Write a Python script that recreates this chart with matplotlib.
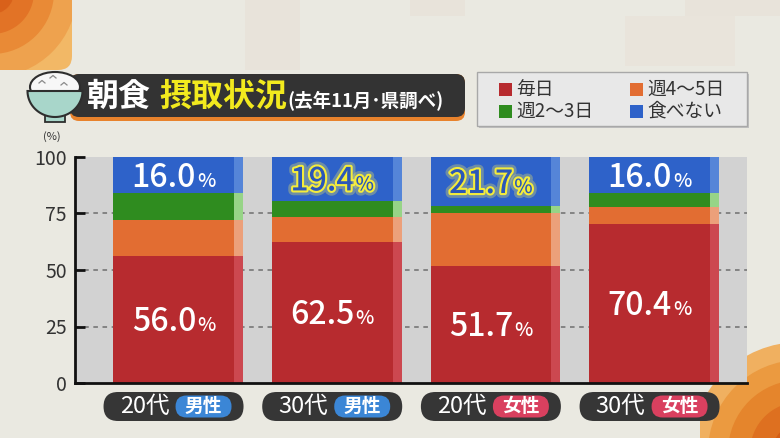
import matplotlib
matplotlib.use("Agg")
import matplotlib.pyplot as plt
import matplotlib.patches as mpatches
import matplotlib.patheffects as pe
from matplotlib import transforms
import numpy as np

plt.rcParams['font.family'] = ['Noto Sans CJK JP', 'DejaVu Sans']

# ---------------- data ----------------
ages = ["20代", "30代", "20代", "30代"]
genders = ["男性", "男性", "女性", "女性"]
series_names = ["毎日", "週4～5日", "週2～3日", "食べない"]
everyday = [56.0, 62.5, 51.7, 70.4]
w4_5 = [16.0, 11.0, 23.5, 7.5]
w2_3 = [12.0, 7.1, 3.1, 6.1]
never = [16.0, 19.4, 21.7, 16.0]
highlight = [False, True, True, False]
yticks = [0, 25, 50, 75, 100]
gridvals = [25, 50, 75]
title_main = "朝食"
title_sub = "摂取状況"
title_note = "(去年11月･県調べ)"

colors = ["#b72b2f", "#e26d32", "#2f8c1f", "#2e62c9"]
side_colors = ["#cc4850", "#eca07a", "#97d487", "#5585d8"]
gender_colors = {"男性": "#3b86d6", "女性": "#d9405f"}

W, H = 780, 438
fig = plt.figure(figsize=(W / 100, H / 100), dpi=100)
fig.patch.set_facecolor("#eae9e1")

# background overlay axes in pixel coordinates
bg = fig.add_axes([0, 0, 1, 1], zorder=0)
bg.set_xlim(0, W)
bg.set_ylim(H, 0)
bg.axis("off")

# subtle tiles
tiles = [(245, 0, 55, 70, "#e8e3da"), (410, 0, 55, 16, "#e8e3da"),
         (625, 16, 110, 50, "#e9e4db"), (685, 0, 95, 16, "#e8e3da")]
for x0, y0, w, h, c in tiles:
    bg.add_patch(mpatches.Rectangle((x0, y0), w, h, color=c, lw=0, zorder=0))

# top-left orange corner
clip_tl = mpatches.FancyBboxPatch((-30, -30), 102, 100, boxstyle="round,pad=0,rounding_size=14",
                                  transform=bg.transData, visible=False)
bg.add_patch(clip_tl)
for r, c in [(110, "#f2b866"), (85, "#eea24e"), (62, "#e98a36"), (42, "#e27326"), (22, "#d9611a")]:
    circ = mpatches.Circle((-8, -8), r, color=c, lw=0, zorder=0.5)
    bg.add_patch(circ)
    circ.set_clip_path(clip_tl)

# bottom-right orange corner
clip_br = mpatches.Rectangle((700, 330), 90, 120, transform=bg.transData, visible=False)
bg.add_patch(clip_br)
for r, c in [(110, "#f0b060"), (92, "#eb9a40"), (72, "#e5852c"), (50, "#de7020"), (28, "#d45e16")]:
    circ = mpatches.Circle((800, 452), r, color=c, lw=0, zorder=0.5)
    bg.add_patch(circ)
    circ.set_clip_path(clip_br)

# ---------------- main axes ----------------
ax = fig.add_axes([75 / W, 55 / H, 672 / W, 226 / H], zorder=1)
ax.set_facecolor("#d2d2d2")
ax.set_ylim(0, 100)
ax.set_xlim(-0.621, 3.614)
x = np.arange(len(ages))
main_w = 0.76
side_w = 0.057

ax.hlines(gridvals, -0.621, 3.614, colors="#6e6e6e", linestyles=(0, (3, 3)), lw=1.1, zorder=1)

stack = [everyday, w4_5, w2_3, never]
bottom = np.zeros(len(ages))
for vals, c, sc in zip(stack, colors, side_colors):
    vals = np.array(vals)
    ax.bar(x, vals, width=main_w, bottom=bottom, color=c, lw=0, zorder=2)
    ax.bar(x + main_w / 2, vals, width=side_w, bottom=bottom, align="edge", color=sc, lw=0, zorder=2)
    bottom = bottom + vals

for s in ["top", "right"]:
    ax.spines[s].set_visible(False)
for s in ["left", "bottom"]:
    ax.spines[s].set_linewidth(2)
    ax.spines[s].set_color("#111111")
    ax.spines[s].set_zorder(3)
ax.set_xticks([])
ax.set_yticks(yticks)
ax.tick_params(axis="y", direction="in", length=7.5, width=2, color="#111111",
               labelsize=14, labelcolor="#333333", pad=6)

renderer = fig.canvas.get_renderer()


def text_width(s, fs):
    t = fig.text(0, 0, s, fontsize=fs, fontweight="medium")
    w = t.get_window_extent(renderer).width
    t.remove()
    return w


def value_label(xc, yc, num, color, glow=False):
    fs1, fs2 = 23, 14
    w1 = text_width(num, fs1)
    w2 = text_width("%", fs2)
    gap = 1
    total = w1 + gap + w2
    base_dy = -0.36 * fs1 * 100 / 72
    effects = []
    if glow:
        effects = [pe.withStroke(linewidth=7, foreground=(1.0, 0.95, 0.35, 0.3)),
                   pe.withStroke(linewidth=3, foreground="#f4ec3c")]
    tr1 = transforms.offset_copy(ax.transData, fig=fig, x=-total / 2, y=base_dy, units="dots")
    tr2 = transforms.offset_copy(ax.transData, fig=fig, x=-total / 2 + w1 + gap, y=base_dy, units="dots")
    ax.text(xc, yc, num, fontsize=fs1, color=color, ha="left", va="baseline", fontweight="medium",
            transform=tr1, zorder=5, path_effects=effects)
    ax.text(xc, yc, "%", fontsize=fs2, color=color, ha="left", va="baseline", fontweight="medium",
            transform=tr2, zorder=5, path_effects=effects)


for i in range(len(ages)):
    value_label(x[i], everyday[i] / 2, f"{everyday[i]:.1f}", "white")
    top_c = 100 - never[i] / 2
    if highlight[i]:
        value_label(x[i], top_c, f"{never[i]:.1f}", "#2b57b8", glow=True)
    else:
        value_label(x[i], top_c, f"{never[i]:.1f}", "white")

# (%) label
bg.text(52, 137, "(%)", fontsize=8, color="#333333", ha="center", va="center")

# ---------------- category pills ----------------
for i in range(len(ages)):
    cx = ax.transData.transform((x[i], 0))[0]
    bg.add_patch(mpatches.FancyBboxPatch((cx - 70, 392), 140, 29,
                                         boxstyle="round,pad=0,rounding_size=14.5",
                                         fc="#363636", ec="none", zorder=2))
    bg.text(cx - 29, 406, ages[i], fontsize=17, color="white", ha="center", va="center", zorder=3)
    bg.add_patch(mpatches.FancyBboxPatch((cx + 2, 395.5), 56, 22,
                                         boxstyle="round,pad=0,rounding_size=11",
                                         fc=gender_colors[genders[i]], ec="none", zorder=3))
    bg.text(cx + 30, 406.5, genders[i], fontsize=13.5, color="white", ha="center", va="center",
            fontweight="bold", zorder=4)

# ---------------- title bar ----------------
bg.add_patch(mpatches.FancyBboxPatch((70, 74), 395, 47, boxstyle="round,pad=0,rounding_size=9",
                                     fc="#e8822c", ec="none", zorder=2))
bg.add_patch(mpatches.FancyBboxPatch((70, 74), 395, 43, boxstyle="round,pad=0,rounding_size=9",
                                     fc="#333333", ec="none", zorder=2.1))
bg.text(87, 97, title_main, fontsize=23, color="white", fontweight="bold", ha="left", va="center", zorder=3)
bg.text(159, 97, title_sub, fontsize=23, color="#f2ea1e", fontweight="bold", ha="left", va="center", zorder=3)
bg.text(287, 100, title_note, fontsize=13.3, color="white", fontweight="bold", ha="left", va="center", zorder=3)

# rice bowl icon
th = np.linspace(0, np.pi, 60)
bowl = np.column_stack([55 + 27.5 * np.cos(th), 91 + 26 * np.sin(th)])
bg.add_patch(mpatches.Rectangle((45, 114), 20, 8, fc="#a8d6ca", ec="#2e2e2e", lw=1.3, zorder=3))
bg.add_patch(mpatches.Ellipse((55, 87), 50, 30, fc="#f7f7f7", ec="#2e2e2e", lw=1.5, zorder=3.05))
bg.add_patch(mpatches.Polygon(bowl, closed=True, fc="#a8d6ca", ec="#2e2e2e", lw=1.5, zorder=3.1))
for (a, b) in [(42, 82), (53, 77), (64, 84)]:
    bg.plot([a - 3, a, a + 3], [b + 1, b - 1.5, b + 1], color="#8a8a8a", lw=0.9, zorder=3.2)

# ---------------- legend ----------------
bg.add_patch(mpatches.Rectangle((479, 74), 270, 54, fc="#c0c0c0", ec="none", zorder=1.9))
bg.add_patch(mpatches.Rectangle((477, 72), 270, 54, fc="#e8e8e8", ec="#a8a8a8", lw=1, zorder=2))
legend_pos = [(499, 89), (630, 89), (499, 111), (630, 111)]
for (lx, ly), name, c in zip(legend_pos, series_names, colors):
    bg.add_patch(mpatches.Rectangle((lx, ly - 6.5), 13, 13, fc=c, ec="none", zorder=3))
    bg.text(lx + 17, ly, name, fontsize=13.5, color="#333333", ha="left", va="center", zorder=3)

fig.savefig("out.png", dpi=100, facecolor=fig.get_facecolor())
